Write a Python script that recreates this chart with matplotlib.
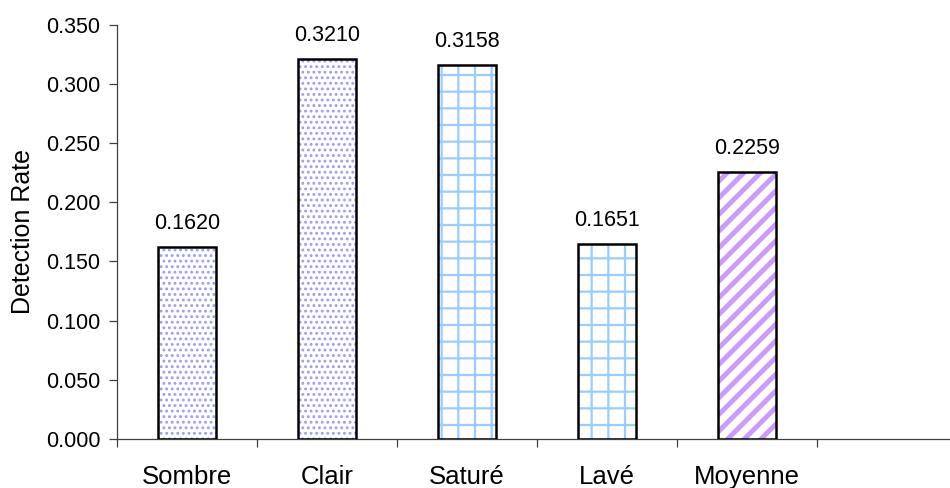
import numpy as np
import matplotlib
matplotlib.use("Agg")
import matplotlib.pyplot as plt
from matplotlib.ticker import FixedLocator, MultipleLocator

plt.rcParams['font.family'] = ['Liberation Sans', 'DejaVu Sans']

categories = ['Sombre', 'Clair', 'Saturé', 'Lavé', 'Moyenne']
rates = [0.1620, 0.3210, 0.3158, 0.1651, 0.2259]
labels = ['0.1620', '0.3210', '0.3158', '0.1651', '0.2259']

# fill pattern of each bar: (hatch, colour, hatch line width)
patterns = [('...', '#9d9df2', 1.3),
            ('...', '#9d9df2', 1.3),
            ('+', '#99ccff', 1.6),
            ('+', '#99ccff', 1.6),
            ('//', '#cc99ff', 3.5)]

fig = plt.figure(figsize=(9.5, 4.88), dpi=100)
ax = fig.add_axes([0.1232, 0.1004, 0.8768, 0.849])

x = np.arange(len(categories))
w = 0.41

for xi, val, (h, col, hlw) in zip(x, rates, patterns):
    with plt.rc_context({'hatch.linewidth': hlw}):
        b = ax.bar(xi, val, width=w, color='white', edgecolor=col,
                   hatch=h, linewidth=0, zorder=2)
        for p in b:
            if hasattr(p, 'set_hatch_linewidth'):
                p.set_hatch_linewidth(hlw)
    ax.bar(xi, val, width=w, color='none', edgecolor='black',
           linewidth=1.8, zorder=3)
    ax.text(xi, val + 0.011, labels[xi], ha='center', va='bottom',
            fontsize=15.5)

ax.set_xlim(-0.5, -0.5 + 833 / 140)
ax.set_ylim(0, 0.35)

ax.yaxis.set_major_locator(MultipleLocator(0.05))
ax.set_yticklabels([f'{v:.3f}' for v in ax.get_yticks()])
ax.tick_params(axis='y', labelsize=15.5, length=5.5, width=0.9,
               pad=6.5, color='#404040')

ax.set_xticks(x)
ax.set_xticklabels(categories)
ax.xaxis.set_minor_locator(FixedLocator(np.arange(-0.5, 6.5, 1.0)))
ax.tick_params(axis='x', which='major', length=0, labelsize=18.5, pad=18.5)
ax.tick_params(axis='x', which='minor', length=6, width=0.9,
               color='#404040')

ax.set_ylabel('Detection Rate', fontsize=18, labelpad=8)

for s in ['top', 'right']:
    ax.spines[s].set_visible(False)
for s in ['left', 'bottom']:
    ax.spines[s].set_color('#404040')
    ax.spines[s].set_linewidth(0.9)

fig.savefig('out.png', dpi=100)
